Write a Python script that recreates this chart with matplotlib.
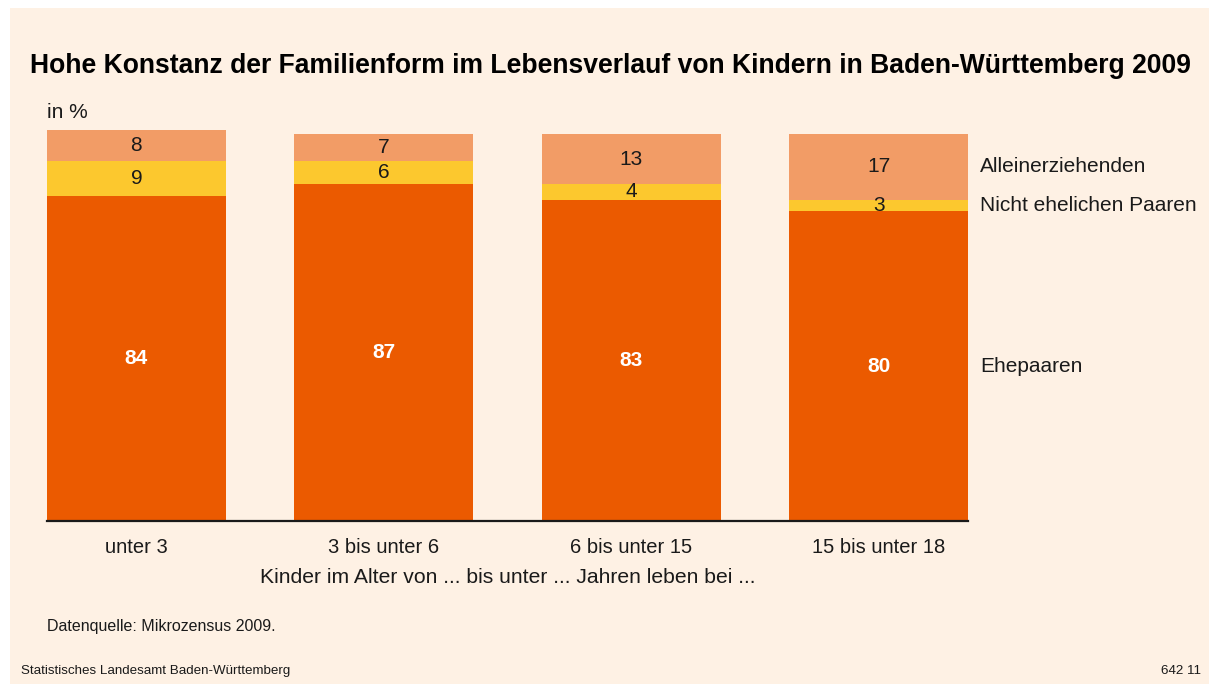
import matplotlib.pyplot as plt
from matplotlib.patches import Rectangle
import numpy as np

plt.rcParams['font.family'] = ['Liberation Sans', 'DejaVu Sans']

# Daten
kategorien = ["unter 3", "3 bis unter 6", "6 bis unter 15", "15 bis unter 18"]
ehepaare = [84, 87, 83, 80]
nicht_ehelich = [9, 6, 4, 3]
alleinerziehend = [8, 7, 13, 17]
serien_namen = ["Ehepaaren", "Nicht ehelichen Paaren", "Alleinerziehenden"]

farben = ["#EB5A00", "#FCC82E", "#F29C66"]
bg = "#FEF1E4"

W, H = 1209, 684
fig = plt.figure(figsize=(W / 100, H / 100), dpi=100, facecolor="white")
fig.patches.append(Rectangle((10 / W, 0), 1 - 10 / W, (H - 8) / H,
                             transform=fig.transFigure, facecolor=bg,
                             edgecolor="none", zorder=-10))

ax = fig.add_axes([47 / W, (H - 521) / H, (968 - 47) / W, (521 - 130) / H])
ax.set_facecolor("none")

x = np.arange(len(kategorien))
breite = 0.723
unten = np.zeros(len(kategorien))
serien = [ehepaare, nicht_ehelich, alleinerziehend]
for i, werte in enumerate(serien):
    werte = np.array(werte)
    ax.bar(x, werte, breite, bottom=unten, color=farben[i], edgecolor="none")
    for j, v in enumerate(werte):
        mitte = unten[j] + v / 2
        if i == 0:
            ax.text(x[j], mitte, str(v), ha="center", va="center",
                    color="white", fontsize=15, fontweight="bold")
        else:
            ax.text(x[j], mitte, str(v), ha="center", va="center",
                    color="#1a1a1a", fontsize=15)
    # Serienbeschriftung rechts neben letztem Balken
    ax.text(x[-1] + breite / 2 + 0.05, unten[-1] + werte[-1] / 2, serien_namen[i],
            ha="left", va="center", fontsize=15, color="#1a1a1a")
    unten = unten + werte

ax.set_xlim(-breite / 2, len(kategorien) - 1 + breite / 2)
ax.set_ylim(0, 101)
for s in ["top", "right", "left"]:
    ax.spines[s].set_visible(False)
ax.spines["bottom"].set_linewidth(1.6)
ax.spines["bottom"].set_color("#1a1a1a")
ax.set_yticks([])
ax.set_xticks(x)
ax.set_xticklabels(kategorien, fontsize=14.5, color="#1a1a1a")
ax.tick_params(axis="x", length=0, pad=12)
ax.set_xlabel("Kinder im Alter von ... bis unter ... Jahren leben bei ...",
              fontsize=15.2, color="#1a1a1a", labelpad=8)

fig.text(30 / W, 1 - 66 / H,
         "Hohe Konstanz der Familienform im Lebensverlauf von Kindern in Baden-Württemberg 2009",
         fontsize=19.1, fontweight="bold", ha="left", va="center")
fig.text(47 / W, 1 - 112 / H, "in %", fontsize=15, ha="left", va="center", color="#1a1a1a")
fig.text(47 / W, 1 - 627 / H, "Datenquelle: Mikrozensus 2009.", fontsize=11.5,
         ha="left", va="center", color="#1a1a1a")
fig.text(21 / W, 1 - 671 / H, "Statistisches Landesamt Baden-Württemberg", fontsize=9.6,
         ha="left", va="center", color="#1a1a1a")
fig.text(1201 / W, 1 - 671 / H, "642 11", fontsize=9.6,
         ha="right", va="center", color="#1a1a1a")

fig.savefig("out.png", dpi=100, facecolor=fig.get_facecolor())
